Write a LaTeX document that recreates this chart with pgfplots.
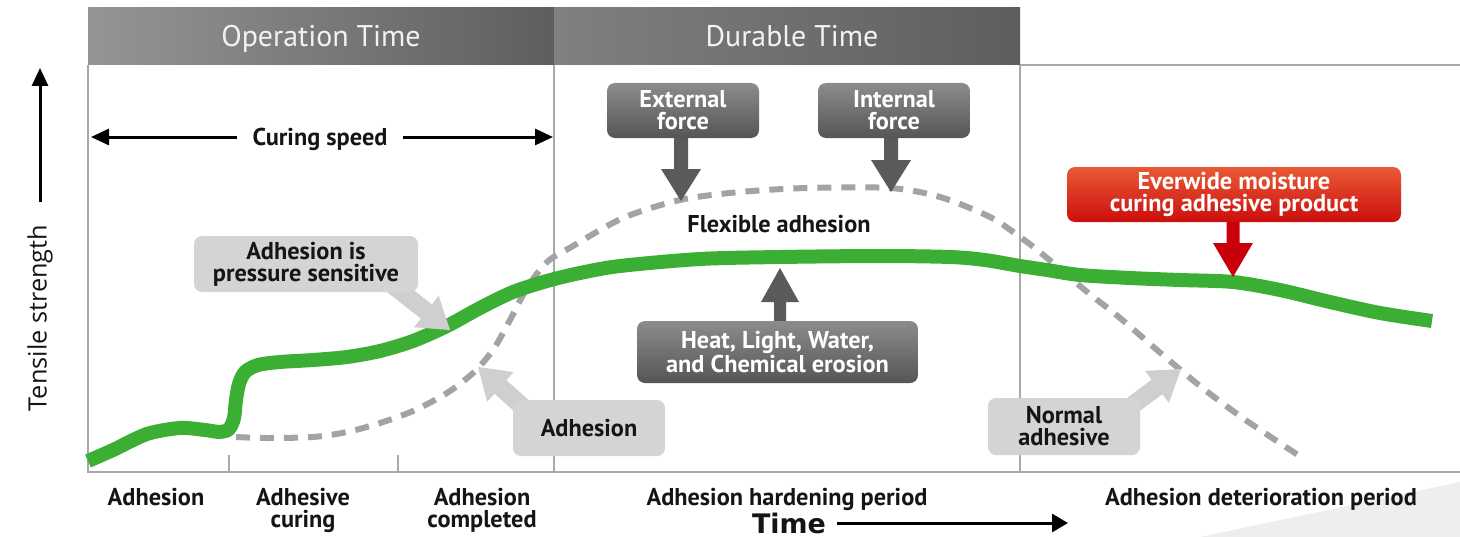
\documentclass[border=0pt]{standalone}
\usepackage{pgfplots}
\pgfplotsset{compat=1.18}
\usepackage{fontspec}
\setmainfont{PT Sans}
\newfontfamily\opensans{Open Sans}
\newfontfamily\dejavu{DejaVu Sans}
\usetikzlibrary{arrows.meta,calc}
\definecolor{hdrA}{HTML}{959595}
\definecolor{hdrB}{HTML}{5E5E5E}
\definecolor{hdrC}{HTML}{808080}
\definecolor{hdrtext}{HTML}{F2F2F2}
\definecolor{gridc}{HTML}{A8A8A8}
\definecolor{greenc}{HTML}{3BAE34}
\definecolor{dashc}{HTML}{A3A3A3}
\definecolor{darkT}{HTML}{8C8C8C}
\definecolor{darkB}{HTML}{555555}
\definecolor{darkA}{HTML}{5A5A5A}
\definecolor{lightbox}{HTML}{D4D4D4}
\definecolor{lightarr}{HTML}{CFCFCF}
\definecolor{redT}{HTML}{E95A34}
\definecolor{redB}{HTML}{CC0E0E}
\definecolor{redA}{HTML}{C9000C}
\definecolor{tri}{HTML}{EEEEEE}
\definecolor{txt}{HTML}{151515}
\newcommand{\blockarrow}[6]{%
  \coordinate (bas) at #2;
  \coordinate (bat) at #3;
  \coordinate (bab) at ($(bat)!#6!(bas)$);
  \fill[#1] ($(bas)!#4!90:(bat)$) -- ($(bab)!#4!-90:(bas)$) -- ($(bab)!#5!-90:(bas)$) -- (bat)
     -- ($(bab)!#5!90:(bas)$) -- ($(bab)!#4!90:(bas)$) -- ($(bas)!#4!-90:(bat)$) -- cycle;
}
\tikzset{
  lbl/.style={font=\bfseries\fontsize{12.2}{11}\selectfont, text=txt, align=center, inner sep=0pt},
  darkbox/.style={rounded corners=4bp, top color=darkT, bottom color=darkB, text=white,
     font=\bfseries\fontsize{12.2}{11}\selectfont, align=center, inner sep=0pt},
  lightbx/.style={rounded corners=4bp, fill=lightbox, text=txt,
     font=\bfseries\fontsize{12.2}{11}\selectfont, align=center, inner sep=0pt},
  redbox/.style={rounded corners=4bp, top color=redT, bottom color=redB, text=white,
     font=\bfseries\fontsize{12.2}{11}\selectfont, align=center, inner sep=0pt},
}
\begin{document}
\begin{tikzpicture}
\begin{axis}[name=ax, width=730bp, height=268.5bp, scale only axis,
  xmin=0, xmax=1460, ymin=0, ymax=537, y dir=reverse, hide axis, clip=false]
% header bars
\shade[left color=hdrA, right color=hdrB] (88,8) rectangle (554,65);
\shade[left color=hdrC, right color=hdrB] (554,8) rectangle (1020,65);
\node[text=hdrtext, font=\fontsize{15}{16}\selectfont, inner sep=0pt, anchor=base] at (321,46.5) {Operation Time};
\node[text=hdrtext, font=\fontsize{15}{16}\selectfont, inner sep=0pt, anchor=base] at (792,46.5) {Durable Time};
% frame
\fill[tri] (1200,537) -- (1460,482) -- (1460,537) -- cycle;
\draw[gridc, line width=0.75bp] (1020,65) -- (1460,65);
\draw[gridc, line width=0.75bp] (88,65) -- (88,472) -- (1460,472);
\draw[gridc, line width=0.75bp] (554,65) -- (554,472);
\draw[gridc, line width=0.75bp] (1020,65) -- (1020,472);
\draw[gridc, line width=0.75bp] (229,455) -- (229,472);
\draw[gridc, line width=0.75bp] (398,455) -- (398,472);
% curves
\addplot[dashc, mark=none, line width=3bp, dash pattern=on 7bp off 5bp, smooth] coordinates {
 (236,437) (267,438) (313,437) (347,432) (380,423) (413,411) (447,393) (473,373)
 (493,350) (510,320) (527,288) (547,262) (573,246) (623,218) (680,200) (740,192)
 (807,188) (890,188) (940,197) (990,217) (1020,237) (1041,253) (1086,291) (1120,318)
 (1164,356) (1205,390) (1247,421) (1298,455)};
\addplot[greenc, mark=none, line width=7bp, smooth, line cap=butt] coordinates {
 (88,461) (113,450) (147,434) (180,428) (205,430) (220,432) (229,429) (234,418)
 (236,400) (239,384) (245,372) (258,365) (280,362) (313,360) (347,357) (380,351)
 (413,341) (447,326) (480,308) (513,292) (547,281) (580,273) (620,266) (700,259)
 (780,257) (880,256) (950,257) (985,260) (1020,266) (1047,270) (1080,275) (1130,278)
 (1180,280) (1233,282) (1280,290) (1330,302) (1380,313) (1432,321)};
% axis arrows
\draw[line width=1.5bp, -{Triangle[width=8bp,length=9bp]}] (40,202) -- (40,68);
\node[rotate=90, font=\opensans\fontsize{12.7}{14}\selectfont, text=txt, inner sep=0pt] at (40,318) {Tensile strength};
\draw[line width=1.5bp, {Triangle[width=8bp,length=9bp]}-{Triangle[width=8bp,length=9bp]}] (91,137) -- (553,137);
\node[lbl, fill=white, inner xsep=8bp, inner ysep=2bp, anchor=base] at (320,145.5) {Curing speed};
\draw[line width=1.5bp, -{Triangle[width=9bp,length=8bp]}] (837,523) -- (1068,523);
\node[font=\dejavu\bfseries\fontsize{13.5}{15}\selectfont, text=txt, inner sep=0pt, anchor=base] at (789,533) {Time};
% bottom labels
\node[lbl, anchor=base] at (156,505.5) {Adhesion};
\node[lbl] at (303,510) {Adhesive\\curing};
\node[lbl] at (482,510) {Adhesion\\completed};
\node[lbl, anchor=base] at (787,505) {Adhesion hardening period};
\node[lbl, anchor=base] at (1261,505.5) {Adhesion deterioration period};
\node[lbl] at (779,224) {Flexible adhesion};
% callout arrows
\blockarrow{darkA}{(681,130)}{(681,201)}{3.5bp}{10bp}{16bp}
\blockarrow{darkA}{(891,130)}{(891,192)}{3.5bp}{10bp}{16bp}
\blockarrow{darkA}{(780,335)}{(780,268)}{3bp}{9.5bp}{17bp}
\blockarrow{redA}{(1233,210)}{(1233,277)}{3.25bp}{10bp}{17bp}
\blockarrow{lightarr}{(390,283)}{(450,330)}{4.5bp}{10bp}{15bp}
\blockarrow{lightarr}{(532,415)}{(478,367)}{4.5bp}{10bp}{15bp}
\blockarrow{lightarr}{(1122,413)}{(1181,369)}{4.5bp}{10bp}{15bp}
% boxes
\node[darkbox, minimum width=76bp, minimum height=27.5bp] at (683,110.5) {External\\force};
\node[darkbox, minimum width=76bp, minimum height=27.5bp] at (894,110.5) {Internal\\force};
\node[darkbox, minimum width=140.5bp, minimum height=31bp] at (777.5,352) {Heat, Light, Water,\\and Chemical erosion};
\node[redbox, minimum width=167bp, minimum height=27.5bp] at (1234,194.5) {Everwide moisture\\curing adhesive product};
\node[lightbx, minimum width=112bp, minimum height=28bp] at (306,264) {Adhesion is\\pressure sensitive};
\node[lightbx, minimum width=76bp, minimum height=28bp] at (589,428) {Adhesion};
\node[lightbx, minimum width=76bp, minimum height=28.5bp] at (1064,426.5) {Normal\\adhesive};
\end{axis}
\pgfresetboundingbox
\path[use as bounding box] (ax.south west) rectangle (ax.north east);
\end{tikzpicture}
\end{document}
